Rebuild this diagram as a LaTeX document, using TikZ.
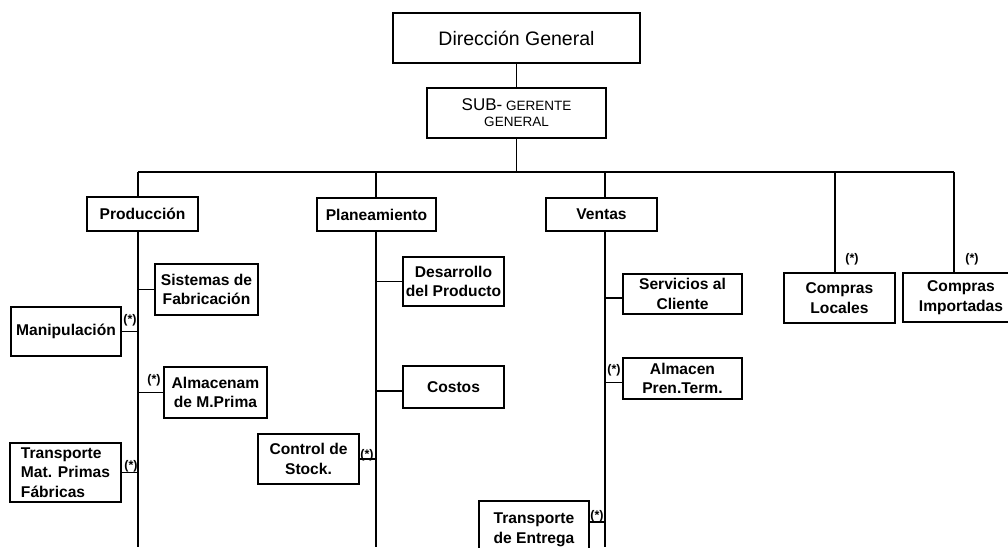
\documentclass[tikz,border=0pt]{standalone}
\usepackage{fontspec}
\setmainfont{Liberation Sans}
\begin{document}
\begin{tikzpicture}[x=1pt,y=-1pt,
  box/.style={draw,line width=1.8pt,inner sep=0pt,align=center,font=\fontsize{15.6}{19.5}\selectfont\bfseries},
  ln/.style={line width=1.8pt},
  star/.style={inner sep=0pt,font=\fontsize{12.5}{13}\selectfont\bfseries}]
\useasboundingbox (0,0) rectangle (1008,547);
\clip (0,0) rectangle (1008,547);

% top
\node[box,font=\fontsize{19.5}{22}\selectfont,minimum width=247pt,minimum height=50pt] (dir) at (516.5,38) {Dirección General};
\node[box,font=\fontsize{13.5}{16}\selectfont,minimum width=179pt,minimum height=50pt] (sub) at (516.5,113)
  {{\fontsize{17}{16}\selectfont SUB-} GERENTE\\GENERAL};

% department heads
\node[box,minimum width=111pt,minimum height=34pt] (prod) at (142.5,214) {Producción};
\node[box,minimum width=119pt,minimum height=33pt] (plan) at (376.5,214.5) {Planeamiento};
\node[box,minimum width=111pt,minimum height=33pt] (vent) at (601.5,214.5) {Ventas};
\node[box,minimum width=111pt,minimum height=50pt] (cloc) at (839.5,298) {Compras\\Locales};
\node[box,minimum width=116pt,minimum height=49pt] (cimp) at (961,297.5) {Compras\\Importadas};

% trunk coordinates
\coordinate (pT) at (138,172);
\coordinate (lT) at (376,172);
\coordinate (vT) at (605,172);
\coordinate (cT) at (835,172);
\coordinate (iT) at (954,172);
\coordinate (pB) at (138,547);
\coordinate (lB) at (376,547);
\coordinate (vB) at (605,547);

% sub-units Produccion
\node[box,minimum width=103pt,minimum height=51pt] (sisfab) at (206.5,289.5) {Sistemas de\\Fabricación};
\node[box,minimum width=110pt,minimum height=49pt] (manip) at (66,331.5) {Manipulación};
\node[box,minimum width=103pt,minimum height=51pt] (almmp) at (215.5,392.5) {Almacenam\\de M.Prima};
\node[box,align=left,minimum width=111pt,minimum height=59pt] (transmp) at (65.5,472.5) {Transporte\\Mat. Primas\\Fábricas};

% sub-units Planeamiento
\node[box,minimum width=101pt,minimum height=49pt] (desarr) at (453.5,281.5) {Desarrollo\\del Producto};
\node[box,minimum width=101pt,minimum height=42pt] (costos) at (453.5,387) {Costos};
\node[box,minimum width=101pt,minimum height=50pt] (ctrl) at (308.5,459) {Control de\\Stock.};

% sub-units Ventas
\node[box,minimum width=119pt,minimum height=40pt] (serv) at (682.5,294) {Servicios al\\Cliente};
\node[box,minimum width=119pt,minimum height=41pt] (almpt) at (682.5,378.5) {Almacen\\Pren.Term.};
\node[box,minimum width=110pt,minimum height=58pt] (trent) at (534,530) {Transporte\\de Entrega};

% connectors
\draw[ln] (dir.south) -- (sub.north);
\draw[ln] (sub.south) -- (sub.south |- pT);
\draw[ln] (pT) -- (iT);
\draw[ln] (pT) -- (pT |- prod.north);
\draw[ln] (lT) -- (lT |- plan.north);
\draw[ln] (vT) -- (vT |- vent.north);
\draw[ln] (cT) -- (cT |- cloc.north);
\draw[ln] (iT) -- (iT |- cimp.north);
\draw[ln] (pT |- prod.south) -- (pB);
\draw[ln] (lT |- plan.south) -- (lB);
\draw[ln] (vT |- vent.south) -- (vB);

\draw[ln] (sisfab.west) -- (sisfab.west -| pT);
\draw[ln] (manip.east) -- (manip.east -| pT);
\draw[ln] (almmp.west) -- (almmp.west -| pT);
\draw[ln] (transmp.east) -- (transmp.east -| pT);
\draw[ln] (desarr.west) -- (desarr.west -| lT);
\draw[ln] ([yshift=-4pt]costos.west) -- ([yshift=-4pt]costos.west -| lT);
\draw[ln] (ctrl.east) -- (ctrl.east -| lT);
\draw[ln] ([yshift=-4pt]serv.west) -- ([yshift=-4pt]serv.west -| vT);
\draw[ln] ([yshift=-4pt]almpt.west) -- ([yshift=-4pt]almpt.west -| vT);
\draw[ln] ([yshift=8pt]trent.east) -- ([yshift=8pt]trent.east -| vT);

% (*) marks
\node[star] (s1) at (130,320) {(*)};
\node[star] (s2) at (154,380) {(*)};
\node[star] (s3) at (131,466) {(*)};
\node[star] (s4) at (367,455) {(*)};
\node[star] (s5) at (614,370) {(*)};
\node[star] (s6) at (597,516) {(*)};
\node[star] (s7) at (852,259) {(*)};
\node[star] (s8) at (972,259) {(*)};
\end{tikzpicture}
\end{document}
